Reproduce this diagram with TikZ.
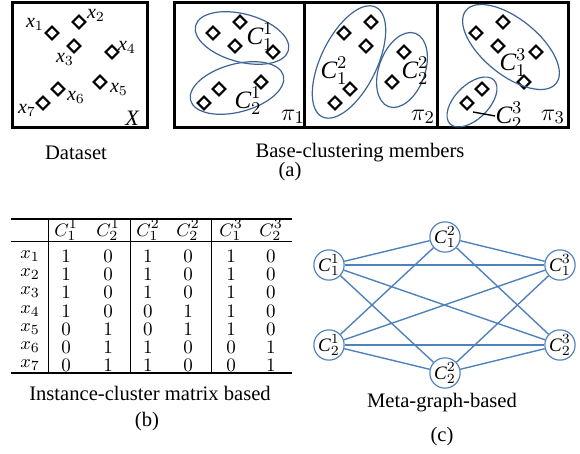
\documentclass[tikz,border=0pt]{standalone}
\usepackage{fontspec}
\newfontfamily\tms{Liberation Serif}
\usetikzlibrary{positioning}
\definecolor{ellblue}{RGB}{62,100,150}
\definecolor{edgeblue}{RGB}{79,129,189}
\tikzset{inst/.style={shape=rectangle, draw, line width=1pt,
    rotate=45, minimum size=4.5pt, inner sep=0pt}}
\tikzset{xlab/.style={font=\tms\fontsize{10}{11}\selectfont, inner sep=0pt}}
\tikzset{clab/.style={font=\tms\fontsize{12.5}{14}\selectfont, inner sep=0pt}}
\tikzset{panel/.style={draw, line width=1.5pt}}
\tikzset{clus/.style={draw=ellblue, line width=0.6pt}}
\tikzset{meta node/.style={shape=circle, draw=edgeblue, line width=0.6pt,
    minimum size=15pt, inner sep=0pt, font=\tms\fontsize{9.5}{10}\selectfont}}
\tikzset{capt/.style={font=\tms\fontsize{10.3}{12}\selectfont, inner sep=0pt}}
\tikzset{cell/.style={font=\fontsize{9.5}{11}\selectfont, inner sep=0pt}}
\newcommand{\cl}[2]{$\textit{C}^{#1}_{#2}$}

\begin{document}
\begin{tikzpicture}[x=0.5pt, y=-0.5pt]
    \useasboundingbox (0,0) rectangle (580,454);

    % (a) dataset and base clusterings
    \draw[panel] (12,3) rectangle (147,128);
    \draw[panel] (174,3) rectangle (304,128);
    \draw[panel] (304,3) rectangle (437,128);
    \draw[panel] (437,3) rectangle (568,128);

    \foreach \s/\k in {0/0,161/1,292/2,424/3}
      \foreach \i/\px/\py in {1/52/33,2/79/22,3/74/46,4/112/52,5/100/82,6/58/89,7/43/103}
        \node[inst] (p\k-\i) at (\px+\s,\py) {};

    \node[xlab] (lx1) at (35,24) {$\textit{x}_1$};
    \node[xlab] (lx2) at (96,15) {$\textit{x}_2$};
    \node[xlab] (lx3) at (65,59) {$\textit{x}_3$};
    \node[xlab] (lx4) at (127,47) {$\textit{x}_4$};
    \node[xlab] (lx5) at (119,89) {$\textit{x}_5$};
    \node[xlab] (lx6) at (76,97) {$\textit{x}_6$};
    \node[xlab] (lx7) at (27,110) {$\textit{x}_7$};
    \node[xlab, font=\tms\itshape\fontsize{11}{12}\selectfont] (dsX) at (132,118) {X};

    \draw[clus, rotate around={-15:(242,38)}] (242,38) ellipse [x radius=48, y radius=24];
    \draw[clus, rotate around={15:(237,88)}] (237,88) ellipse [x radius=48, y radius=24];
    \draw[clus, rotate around={64:(349,62)}] (349,62) ellipse [x radius=61, y radius=28];
    \draw[clus, rotate around={70:(402,70)}] (402,70) ellipse [x radius=39, y radius=23];
    \draw[clus, rotate around={-39:(511,47)}] (511,47) ellipse [x radius=58, y radius=28];
    \draw[clus, rotate around={45:(472,102)}] (472,102) ellipse [x radius=31, y radius=17];

    \node[clab] (k11) at (260,37) {\cl11};
    \node[clab] (k12) at (248,101) {\cl12};
    \node[clab] (k21) at (334,71) {\cl21};
    \node[clab] (k22) at (415,71) {\cl22};
    \node[clab] (k31) at (513,63) {\cl31};
    \node[clab] (k32) at (509,116) {\cl32};
    \coordinate (lead) at (473,112);
    \draw[line width=0.7pt] (lead) -- (k32.west);

    \node[clab, font=\fontsize{12.5}{14}\selectfont] (pi1) at (293,117) {$\pi_1$};
    \node[clab, font=\fontsize{12.5}{14}\selectfont] (pi2) at (423,117) {$\pi_2$};
    \node[clab, font=\fontsize{12.5}{14}\selectfont] (pi3) at (553,117) {$\pi_3$};

    \node[capt] (capds) at (76,153) {Dataset};
    \node[capt] (capbase) at (360,153) {Base-clustering members};
    \node[capt] (capa) at (290,172) {(a)};

    % (b) instance-cluster matrix
    \draw[line width=0.6pt] (11,219) -- (292,219);
    \draw[line width=0.4pt] (11,241) -- (292,241);
    \draw[line width=0.6pt] (11,373) -- (292,373);
    \foreach \vx in {48,130,211}
      \draw[line width=0.4pt] (\vx,219) -- (\vx,373);

    \foreach \c/\cx/\ka/\kb in {1/66/1/1,2/108/1/2,3/148/2/1,4/188/2/2,5/231/3/1,6/271/3/2}
      \node[cell] (h\c) at (\cx,230) {$C^{\ka}_{\kb}$};

    \foreach \r/\ry/\a/\b/\c/\d/\e/\f in {1/256/1/0/1/0/1/0,2/274/1/0/1/0/1/0,
        3/292/1/0/1/0/1/0,4/311/1/0/0/1/1/0,5/329/0/1/0/1/1/0,
        6/347/0/1/1/0/0/1,7/365/0/1/1/0/0/1}{
      \node[cell] (rx\r) at (30,\ry) {$x_{\r}$};
      \node[cell] (t\r-1) at (66,\ry) {\a};
      \node[cell] (t\r-2) at (108,\ry) {\b};
      \node[cell] (t\r-3) at (148,\ry) {\c};
      \node[cell] (t\r-4) at (188,\ry) {\d};
      \node[cell] (t\r-5) at (231,\ry) {\e};
      \node[cell] (t\r-6) at (271,\ry) {\f};
    }

    \node[capt] (capb1) at (150,393) {Instance-cluster matrix based};
    \node[capt] (capb) at (147,422) {(b)};

    % (c) meta-graph
    \node[meta node] (c11) at (329,265) {\cl11};
    \node[meta node] (c21) at (445,237) {\cl21};
    \node[meta node] (c31) at (560,265) {\cl31};
    \node[meta node] (c12) at (329,345) {\cl12};
    \node[meta node] (c22) at (445,373) {\cl22};
    \node[meta node] (c32) at (560,345) {\cl32};

    \path[draw, edgeblue, line width=0.7pt]
    (c11) edge (c21)
    (c11) edge (c31)
    (c11) edge (c22)
    (c11) edge (c32)
    (c12) edge (c21)
    (c12) edge (c31)
    (c12) edge (c22)
    (c12) edge (c32)
    (c21) edge (c31)
    (c21) edge (c32)
    (c22) edge (c31)
    (c22) edge (c32)
    ;

    \node[capt] (capc1) at (442,403) {Meta-graph-based};
    \node[capt] (capc) at (442,437) {(c)};
\end{tikzpicture}
\end{document}
